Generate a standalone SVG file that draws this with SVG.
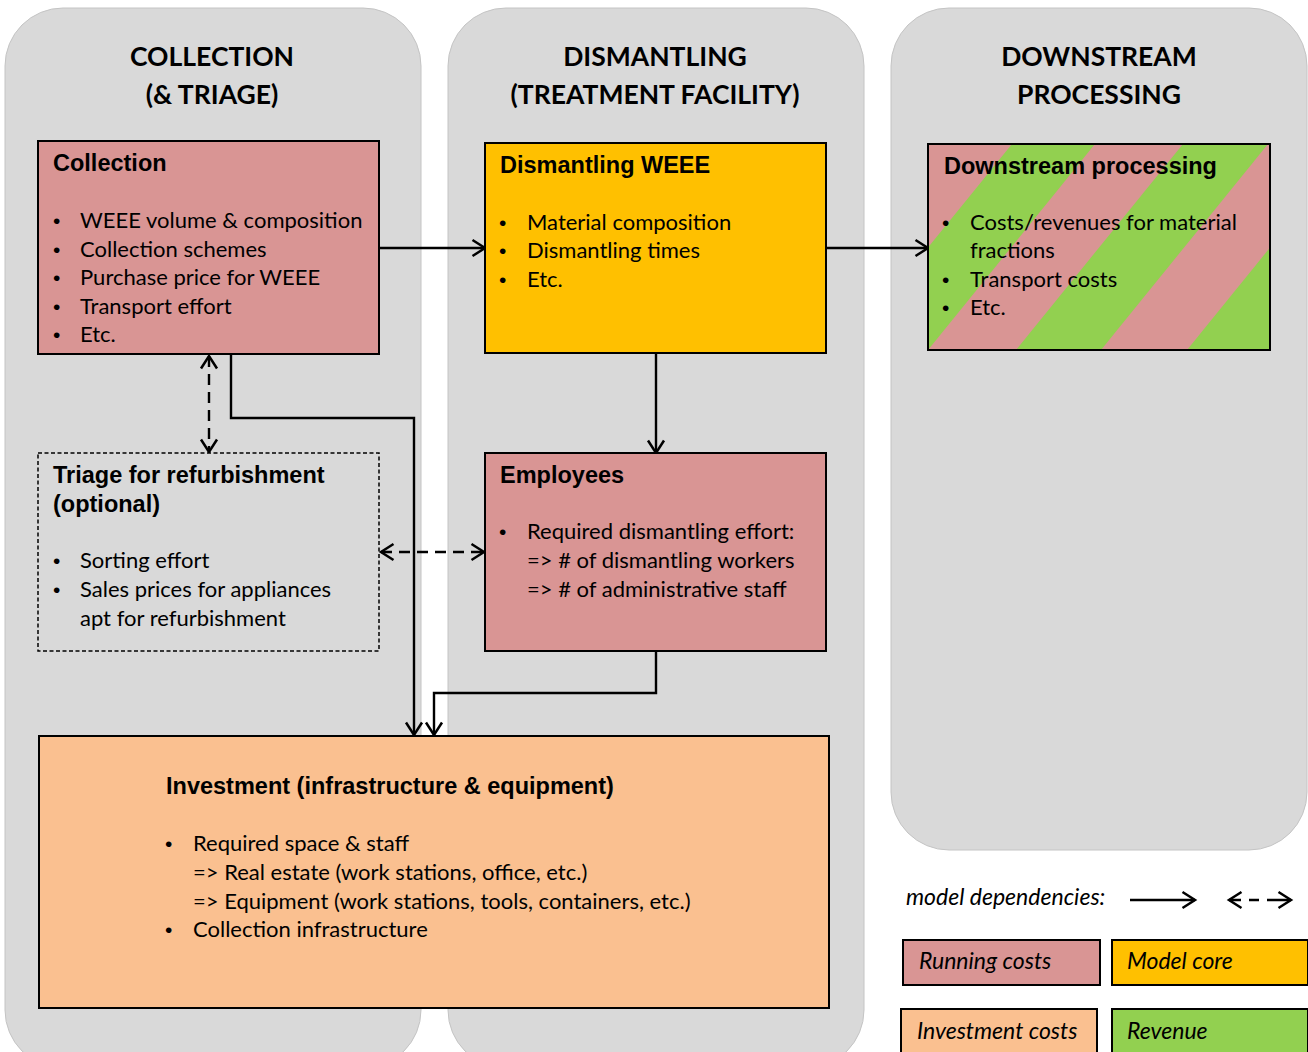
<svg xmlns="http://www.w3.org/2000/svg" width="1308" height="1052" viewBox="0 0 1308 1052">
<defs>
<style>
.col{fill:#d9d9d9;stroke:#c4c4c4;stroke-width:1}
.hdr{font-family:Lato,"Open Sans",sans-serif;font-weight:bold;font-size:26.5px;fill:#000;text-anchor:middle}
.ttl{font-family:"Liberation Sans",Arial,sans-serif;font-weight:bold;font-size:23.5px;fill:#000}
.txt{font-family:Lato,"Open Sans",sans-serif;font-size:22px;fill:#000}
.bul{font-family:"Liberation Sans",Arial,sans-serif;font-size:21px;fill:#000}
.leg{font-family:Lato,"Open Sans",sans-serif;font-style:italic;font-size:23px;fill:#000}
.box{stroke:#000;stroke-width:2}
.run{fill:#d99594}
.core{fill:#ffc000}
.inv{fill:#fac090}
.rev{fill:#92d050}
.conn{fill:none;stroke:#000;stroke-width:2.4}
.dash{stroke-dasharray:11 7}
</style>
<marker id="ah" markerUnits="userSpaceOnUse" markerWidth="16" markerHeight="18" refX="13" refY="9" orient="auto-start-reverse" overflow="visible">
<path d="M0.5,1 L13,9 L0.5,17" fill="none" stroke="#000" stroke-width="2.5"/>
</marker>
<clipPath id="dsclip"><rect x="928" y="144" width="342" height="206"/></clipPath>
</defs>

<g id="columns">
<rect class="col" x="5" y="8" width="416" height="1060" rx="58"/>
<rect class="col" x="448" y="8" width="416" height="1060" rx="58"/>
<rect class="col" x="891" y="8" width="416" height="842" rx="58"/>
<text class="hdr" x="212" y="66">COLLECTION</text>
<text class="hdr" x="212" y="104">(&amp; TRIAGE)</text>
<text class="hdr" x="655" y="66">DISMANTLING</text>
<text class="hdr" x="655" y="104">(TREATMENT FACILITY)</text>
<text class="hdr" x="1099" y="66">DOWNSTREAM</text>
<text class="hdr" x="1099" y="104">PROCESSING</text>
</g>

<g id="connectors">
<line class="conn" x1="379" y1="248" x2="485" y2="248" marker-end="url(#ah)"/>
<line class="conn" x1="826" y1="248" x2="928" y2="248" marker-end="url(#ah)"/>
<line class="conn" x1="656" y1="353" x2="656" y2="453" marker-end="url(#ah)"/>
<polyline class="conn" points="231,354 231,418 414,418 414,735" marker-end="url(#ah)"/>
<polyline class="conn" points="656,651 656,693 434,693 434,735" marker-end="url(#ah)"/>
<line class="conn dash" x1="209" y1="356" x2="209" y2="452" marker-start="url(#ah)" marker-end="url(#ah)"/>
<line class="conn dash" x1="381" y1="552" x2="484" y2="552" marker-start="url(#ah)" marker-end="url(#ah)"/>
</g>

<g id="collection">
<rect class="box run" x="38" y="141" width="341" height="213"/>
<text class="ttl" x="53" y="171">Collection</text>
<g class="bul">
<text x="53" y="228">•</text><text x="53" y="257">•</text><text x="53" y="285">•</text><text x="53" y="314">•</text><text x="53" y="342">•</text>
</g>
<g class="txt">
<text x="80" y="228">WEEE volume &amp; composition</text>
<text x="80" y="257">Collection schemes</text>
<text x="80" y="285">Purchase price for WEEE</text>
<text x="80" y="314">Transport effort</text>
<text x="80" y="342">Etc.</text>
</g>
</g>

<g id="dismantling">
<rect class="box core" x="485" y="143" width="341" height="210"/>
<text class="ttl" x="500" y="173">Dismantling WEEE</text>
<g class="bul">
<text x="499" y="230">•</text><text x="499" y="258">•</text><text x="499" y="287">•</text>
</g>
<g class="txt">
<text x="527" y="230">Material composition</text>
<text x="527" y="258">Dismantling times</text>
<text x="527" y="287">Etc.</text>
</g>
</g>

<g id="downstream">
<rect x="928" y="144" width="342" height="206" class="run"/>
<g clip-path="url(#dsclip)" class="rev">
<polygon points="1012,144 1095,144 928,350 845,350"/>
<polygon points="1183,144 1268,144 1101,350 1016,350"/>
<polygon points="1354,144 1439,144 1272,350 1187,350"/>
</g>
<rect x="928" y="144" width="342" height="206" fill="none" class="box"/>
<text class="ttl" x="944" y="174">Downstream processing</text>
<g class="bul">
<text x="942" y="230">•</text><text x="942" y="287">•</text><text x="942" y="315">•</text>
</g>
<g class="txt">
<text x="970" y="230">Costs/revenues for material</text>
<text x="970" y="258">fractions</text>
<text x="970" y="287">Transport costs</text>
<text x="970" y="315">Etc.</text>
</g>
</g>

<g id="triage">
<rect x="38" y="453" width="341" height="198" fill="#d9d9d9" stroke="#000" stroke-width="1.5" stroke-dasharray="4 2.5"/>
<text class="ttl" x="53" y="483">Triage for refurbishment</text>
<text class="ttl" x="53" y="512">(optional)</text>
<g class="bul">
<text x="53" y="568">•</text><text x="53" y="597">•</text>
</g>
<g class="txt">
<text x="80" y="568">Sorting effort</text>
<text x="80" y="597">Sales prices for appliances</text>
<text x="80" y="626">apt for refurbishment</text>
</g>
</g>

<g id="employees">
<rect class="box run" x="485" y="453" width="341" height="198"/>
<text class="ttl" x="500" y="483">Employees</text>
<g class="bul"><text x="499" y="539">•</text></g>
<g class="txt">
<text x="527" y="539">Required dismantling effort:</text>
<text x="527" y="568">=&gt; # of dismantling workers</text>
<text x="527" y="597">=&gt; # of administrative staff</text>
</g>
</g>

<g id="investment">
<rect class="box inv" x="39" y="736" width="790" height="272"/>
<text class="ttl" x="166" y="794">Investment (infrastructure &amp; equipment)</text>
<g class="bul"><text x="165" y="851">•</text><text x="165" y="937">•</text></g>
<g class="txt">
<text x="193" y="851">Required space &amp; staff</text>
<text x="193" y="880">=&gt; Real estate (work stations, office, etc.)</text>
<text x="193" y="909">=&gt; Equipment (work stations, tools, containers, etc.)</text>
<text x="193" y="937">Collection infrastructure</text>
</g>
</g>

<g id="legend">
<text class="leg" x="906" y="905">model dependencies:</text>
<line class="conn" x1="1130" y1="900" x2="1195" y2="900" marker-end="url(#ah)"/>
<line class="conn" x1="1229" y1="900" x2="1291" y2="900" stroke-dasharray="12 8 10 8 30" marker-start="url(#ah)" marker-end="url(#ah)"/>
<rect class="box run" x="903" y="940" width="197" height="45"/>
<text class="leg" x="919" y="969">Running costs</text>
<rect class="box core" x="1112" y="940" width="196" height="45"/>
<text class="leg" x="1127" y="969">Model core</text>
<rect class="box inv" x="901" y="1009" width="196" height="60"/>
<text class="leg" x="917" y="1039">Investment costs</text>
<rect class="box rev" x="1112" y="1009" width="196" height="60"/>
<text class="leg" x="1127" y="1039">Revenue</text>
</g>
</svg>
